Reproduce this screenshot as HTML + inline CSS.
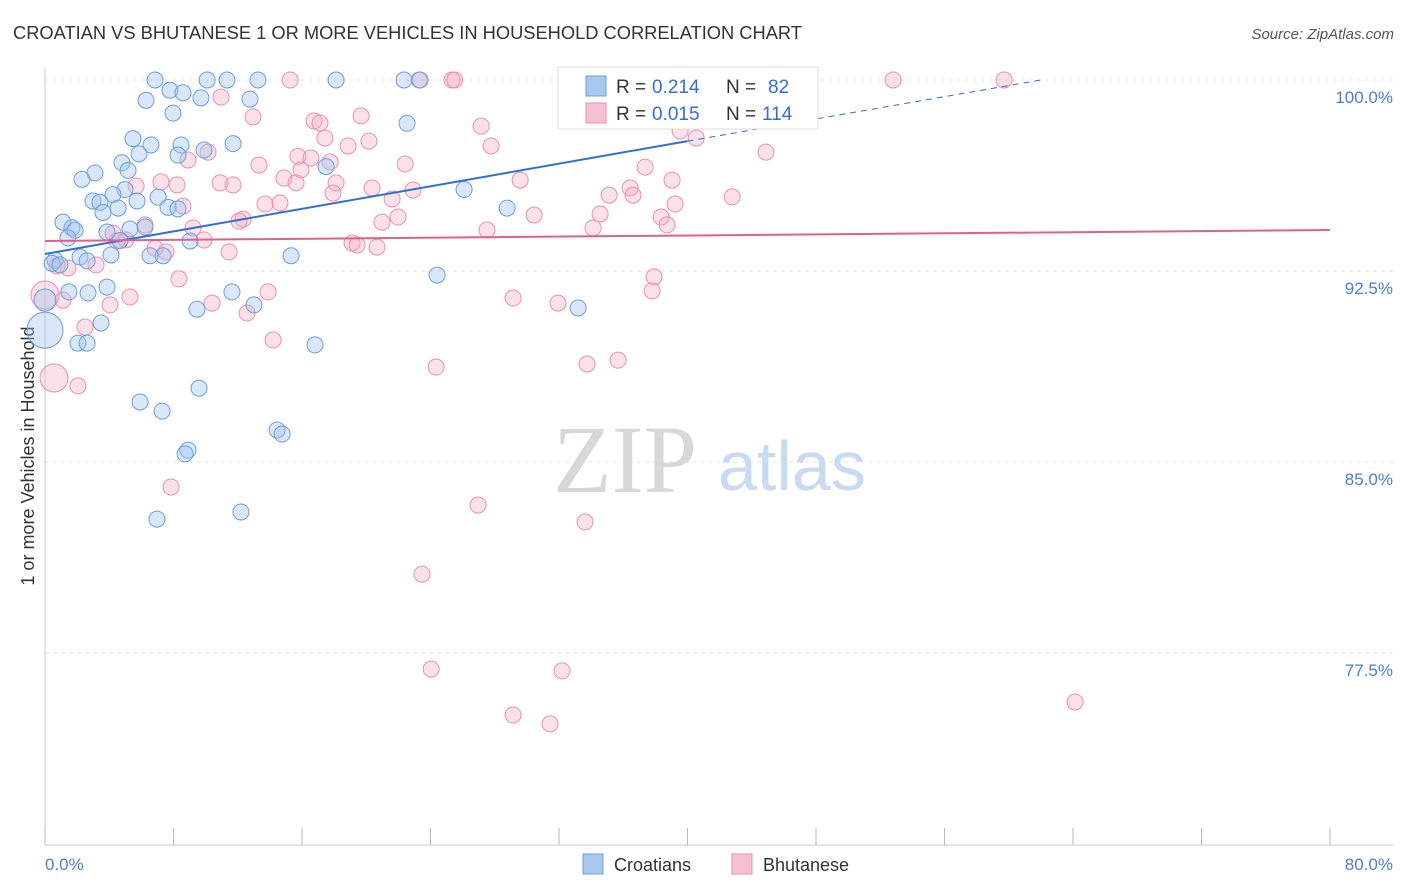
<!DOCTYPE html>
<html><head><meta charset="utf-8">
<style>
body{margin:0;background:#fff;font-family:"Liberation Sans",sans-serif;}
svg{display:block}
</style></head>
<body>
<svg id="chart" width="1406" height="892" xmlns="http://www.w3.org/2000/svg">
<text x="13" y="39" font-size="18.3" fill="#333" font-family="Liberation Sans, sans-serif">CROATIAN VS BHUTANESE 1 OR MORE VEHICLES IN HOUSEHOLD CORRELATION CHART</text>
<text x="1394" y="39" font-size="15" fill="#555" text-anchor="end" font-style="italic" font-family="Liberation Sans, sans-serif">Source: ZipAtlas.com</text>
<text transform="translate(34,456) rotate(-90)" font-size="18" fill="#333" text-anchor="middle" font-family="Liberation Sans, sans-serif">1 or more Vehicles in Household</text>
<g id="grid"></g>
<text x="553" y="492" font-size="96" fill="#d8d8d8" font-family="Liberation Serif, serif">ZIP</text>
<text x="718" y="490" font-size="70" fill="#c9dbf2" font-family="Liberation Sans, sans-serif">atlas</text>
<g id="marks"></g>
<g id="lines"></g>
<g font-size="19" font-family="Liberation Sans, sans-serif">
<rect x="558" y="67" width="260" height="62" fill="#fff" stroke="#ddd"/>
<rect x="586" y="76" width="20" height="20" fill="#a9c8f0" stroke="#6a9fe0"/>
<text x="616" y="93" fill="#333">R =</text>
<text x="652" y="93" fill="#2f6fd6">0.214</text>
<text x="726" y="93" fill="#333">N =</text>
<text x="768" y="93" fill="#2f6fd6">82</text>
<rect x="586" y="103" width="20" height="20" fill="#f7c0d2" stroke="#eb8fae"/>
<text x="616" y="120" fill="#333">R =</text>
<text x="652" y="120" fill="#2f6fd6">0.015</text>
<text x="726" y="120" fill="#333">N =</text>
<text x="762" y="120" fill="#2f6fd6">114</text>
</g>
<g font-family="Liberation Sans, sans-serif">
<rect x="583" y="854" width="20" height="20" fill="#a9c8f0" stroke="#6a9fe0"/>
<text x="614" y="871" font-size="18" fill="#333">Croatians</text>
<rect x="732" y="854" width="20" height="20" fill="#f7c0d2" stroke="#eb8fae"/>
<text x="763" y="871" font-size="18" fill="#333">Bhutanese</text>
</g>
</svg>
<script>
const xTicks=[0,8,16,24,32,40,48,56,64,72,80];
const yTicks=[100,92.5,85,77.5];
const yTickLabels=["100.0%","92.5%","85.0%","77.5%"];
const xTickLabels=["0.0%","80.0%"];
const blueX=[6.85,11.33,13.26,10.09,18.12,22.35,23.35,7.78,8.59,6.29,9.71,12.76,7.97,22.54,5.48,8.47,6.6,5.85,11.71,9.9,8.28,17.5,4.79,3.11,5.17,2.3,4.98,4.23,26.09,7.04,2.99,3.42,5.73,4.55,3.61,7.66,8.28,28.77,1.12,1.68,1.87,5.29,3.86,6.23,1.43,4.67,9.03,7.35,2.18,4.11,2.62,6.54,0.62,15.32,0.44,0.93,24.41,1.49,2.68,3.86,11.64,13.01,9.46,33.19,3.49,2.05,2.62,16.81,9.59,5.92,7.29,14.45,14.76,8.9,8.72,6.97,12.2,0,0];
const blueY=[100,100,100,100,100,100,100,99.6,99.5,99.2,99.3,99.25,98.7,98.3,97.7,97.45,97.45,97.1,97.5,97.25,97.05,96.6,96.75,96.35,96.45,96.1,95.7,95.5,95.7,95.4,95.25,95.2,95.25,94.97,94.8,95.0,94.94,94.97,94.42,94.2,94.1,94.15,94.03,94.23,93.8,93.7,93.68,93.1,93.05,93.13,92.9,93.1,92.93,93.1,92.8,92.74,92.34,91.68,91.64,91.87,91.68,91.17,91.0,91.05,90.46,89.67,89.67,89.6,87.9,87.36,87.0,86.26,86.1,85.47,85.32,82.76,83.04,90.18,91.36];
const blueSize=[8,8,8,8,8,8,8,8,8,8,8,8,8,8,8,8,8,8,8,8,8,8,8,8,8,8,8,8,8,8,8,8,8,8,8,8,8,8,8,8,8,8,8,8,8,8,8,8,8,8,8,8,8,8,8,8,8,8,8,8,8,8,8,8,8,8,8,8,8,8,8,8,8,8,8,8,8,18,11];
const pinkX=[15.26,25.34,23.29,25.5,32.57,43.96,52.8,59.71,10.96,12.95,19.68,16.75,17.12,27.15,17.43,39.54,40.54,27.77,18.87,20.17,44.89,10.15,15.75,16.56,8.9,37.36,22.42,13.32,15.94,17.75,14.88,15.63,7.22,8.22,39.04,10.9,11.71,5.67,29.58,18.12,20.36,22.91,35.12,36.43,36.61,42.78,17.93,21.61,13.7,8.59,14.63,39.23,34.56,38.36,30.45,20.98,21.98,12.33,12.08,6.23,9.22,27.52,34.12,38.73,4.23,5.04,4.48,9.9,6.85,7.53,19.12,20.67,19.43,11.46,1.43,3.18,0.75,8.34,37.92,37.8,5.29,13.89,29.14,31.94,10.4,12.58,4.05,1.12,2.49,14.2,24.35,33.75,35.68,0.56,2.05,7.85,26.96,33.62,23.47,24.04,32.19,29.14,31.44,64.13,0];
const pinkY=[100,100,100,100,100,100,100,100,99.33,98.55,98.59,98.39,98.31,98.19,97.72,98.0,97.72,97.41,97.41,97.6,97.17,97.17,97.0,96.94,96.86,96.58,96.7,96.66,96.47,96.78,96.15,95.96,96.0,95.88,96.07,95.96,95.88,95.84,96.07,95.96,95.76,95.68,95.48,95.76,95.48,95.41,95.56,95.33,95.13,95.05,95.17,95.13,94.74,94.62,94.7,94.42,94.62,94.54,94.46,94.31,94.19,94.11,94.19,94.31,93.99,93.72,93.68,93.72,93.4,93.25,93.6,93.44,93.52,93.25,92.62,92.74,92.7,92.19,92.27,91.72,91.48,91.68,91.44,91.24,91.24,90.85,91.17,91.36,90.3,89.79,88.73,88.85,89.0,88.3,87.99,84.02,83.31,82.65,80.6,76.87,76.8,75.07,74.72,75.58,91.56];
const blueTrendX=[0,40,62];
const blueTrendY=[93.17,97.6,100];
const pinkTrendX=[0,80];
const pinkTrendY=[93.68,94.11];

const NS="http://www.w3.org/2000/svg";
const X0=45,X1=1330,Ytop=80,PPY=25.47;
function sx(v){return X0+(v-0)/80*(X1-X0);}
function sy(v){return Ytop+(100-v)*PPY;}
function mk(tag,attrs,parent){const e=document.createElementNS(NS,tag);for(const k in attrs)e.setAttribute(k,attrs[k]);parent.appendChild(e);return e;}
const grid=document.getElementById('grid'),marks=document.getElementById('marks'),lines=document.getElementById('lines');
yTicks.forEach((t,i)=>{
  const l=mk('line',{x1:X0,x2:1393,y1:sy(t),y2:sy(t),stroke:'#e3e3e3','stroke-dasharray':'4,4'},grid);
  
  
  const tx=mk('text',{x:1393,y:sy(t)+23,'font-size':17,fill:'#4a7fd4','text-anchor':'end','font-family':'Liberation Sans, sans-serif'},grid);
  tx.textContent=yTickLabels[i];
  
  
});
const ax=mk('line',{x1:X0,x2:X0,y1:68,y2:845,stroke:'#ccc'},grid);


const bx=mk('line',{x1:X0,x2:1393,y1:845,y2:845,stroke:'#ccc'},grid);


xTicks.forEach(t=>{
  const l=mk('line',{x1:sx(t),x2:sx(t),y1:828,y2:845,stroke:'#bbb'},grid);
  
  
});
[[0,'start'],[80,'end']].forEach((p,i)=>{
  const tx=mk('text',{x:i==0?45:1393,y:870,'font-size':17,fill:'#4a7fd4','text-anchor':p[1],'font-family':'Liberation Sans, sans-serif'},grid);
  tx.textContent=xTickLabels[i];
  
  
});
pinkX.forEach((x,i)=>{
  const r=(i==93||i==104)?14:8;
  const c=mk('circle',{cx:sx(x),cy:sy(pinkY[i]),r:r,fill:'rgba(245,170,195,0.35)',stroke:'#eb8fae','stroke-width':1},marks);
  
  
});
blueX.forEach((x,i)=>{
  const c=mk('circle',{cx:sx(x),cy:sy(blueY[i]),r:blueSize[i],fill:'rgba(160,196,240,0.4)',stroke:'#6a9fe0','stroke-width':1},marks);
  
  
});
const bl=mk('line',{x1:sx(blueTrendX[0]),y1:sy(blueTrendY[0]),x2:sx(blueTrendX[1]),y2:sy(blueTrendY[1]),stroke:'#2f6fd6','stroke-width':2},lines);


const bd=mk('line',{x1:sx(blueTrendX[1]),y1:sy(blueTrendY[1]),x2:sx(blueTrendX[2]),y2:sy(blueTrendY[2]),stroke:'#2f6fd6','stroke-width':1,'stroke-dasharray':'6,5'},lines);


const pl=mk('line',{x1:sx(pinkTrendX[0]),y1:sy(pinkTrendY[0]),x2:sx(pinkTrendX[1]),y2:sy(pinkTrendY[1]),stroke:'#e0608e','stroke-width':2},lines);


</script>
</body></html>
